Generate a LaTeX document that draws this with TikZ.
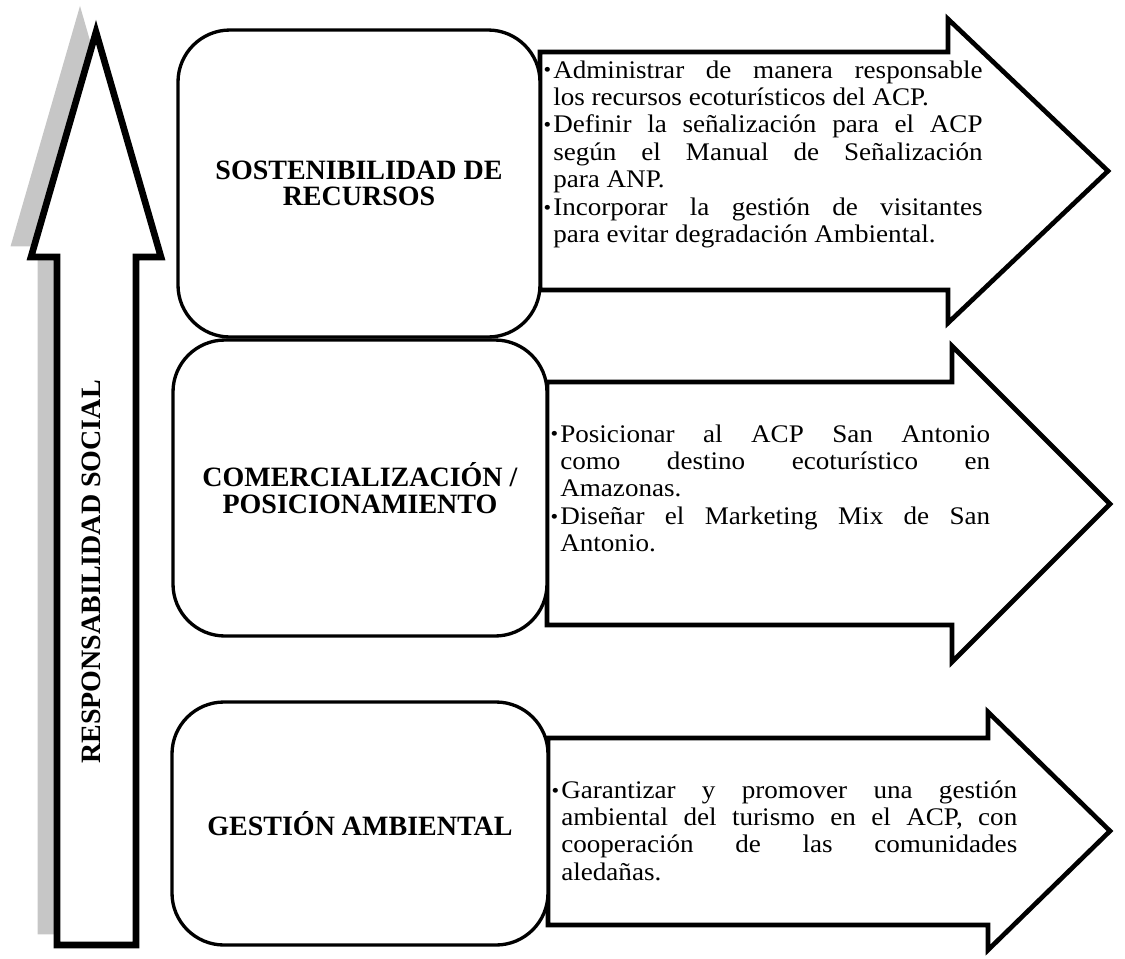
\documentclass[tikz,border=0pt]{standalone}
\usepackage{fontspec}
\usepackage{graphicx}
\usepackage{tikz}
\setmainfont{Liberation Serif}
\newfontfamily\bodyfont{Liberation Serif}[FakeStretch=1.07]
\newfontfamily\headfont{Liberation Serif Bold}
\newcommand\bitem{\par\noindent\llap{\raisebox{0.04em}{\scalebox{0.8}{\textbullet}}\hspace{1.5pt}}}
\newcommand\bodytext{\bodyfont\fontsize{19}{20.6}\selectfont\tolerance=10000\hbadness=10000\relax}

\begin{document}
\begin{tikzpicture}[x=0.75pt,y=0.75pt,yscale=-1,xscale=1,
  card/.style={draw, line width=2.5pt, rounded corners=39pt, fill=white, inner sep=0pt, align=center, font=\headfont\fontsize{21}{20}\selectfont},
  blockarrow/.style={draw, line width=3.5pt, fill=white, line join=miter},
  txt/.style={anchor=base west, inner sep=0pt}]
\useasboundingbox (0,0) rectangle (1125,958);

%Shape: Up Arrow shadow
\draw [draw=gray!45, fill=gray!45, line width=5pt, line join=miter] (80,18) -- (145,243) -- (120,243) -- (120,931) -- (41,931) -- (41,243) -- (15,243) -- cycle ;
%Shape: Up Arrow
\draw [line width=5pt, fill=white, line join=miter] (96,32) -- (161,257) -- (136,257) -- (136,945) -- (57,945) -- (57,257) -- (31,257) -- cycle ;
% Text Node
\node [rotate=90, anchor=base, font=\headfont\fontsize{21}{24}\selectfont] (social) at (100,572) {RESPONSABILIDAD SOCIAL};

%Shape: Right Arrow [1]
\draw [blockarrow] (540,52) -- (948,52) -- (948,19) -- (1108,171) -- (948,323) -- (948,290) -- (540,290) -- cycle ;
%Shape: Right Arrow [2]
\draw [blockarrow] (547,382) -- (952,382) -- (952,346) -- (1110,504) -- (952,662) -- (952,625) -- (547,625) -- cycle ;
%Shape: Right Arrow [3]
\draw [blockarrow] (548,738) -- (988,738) -- (988,712) -- (1110,831) -- (988,950) -- (988,925) -- (548,925) -- cycle ;

%Shape: Rounded Rect [1]
\node [card, minimum width=271.5pt, minimum height=230.25pt] (recursos) at (359,183.5) {SOSTENIBILIDAD DE\\RECURSOS};
%Shape: Rounded Rect [2]
\node [card, minimum width=280.5pt, minimum height=222pt] (comercial) at (360,488) {COMERCIALIZACIÓN /\\POSICIONAMIENTO};
%Shape: Rounded Rect [3]
\node [card, minimum width=282pt, minimum height=182.25pt] (ambiental) at (360,823.5) {GESTIÓN AMBIENTAL};

% Text Node
\node [txt] (recursostxt) at (553,78) {\parbox[t]{322pt}{\bodytext
\bitem Administrar de manera responsable\linebreak los recursos ecoturísticos del ACP.
\bitem Definir la señalización para el ACP\linebreak según el Manual de Señalización\linebreak para ANP.
\bitem Incorporar la gestión de visitantes\linebreak para evitar degradación Ambiental.}};
% Text Node
\node [txt] (comercialtxt) at (560,442) {\parbox[t]{322.5pt}{\bodytext
\bitem Posicionar al ACP San Antonio\linebreak como destino ecoturístico en\linebreak Amazonas.
\bitem Diseñar el Marketing Mix de San\linebreak Antonio.}};
% Text Node
\node [txt] (ambientaltxt) at (561,798) {\parbox[t]{342pt}{\bodytext
\bitem Garantizar y promover una gestión\linebreak ambiental del turismo en el ACP, con\linebreak cooperación de las comunidades\linebreak aledañas.}};

\end{tikzpicture}
\end{document}
